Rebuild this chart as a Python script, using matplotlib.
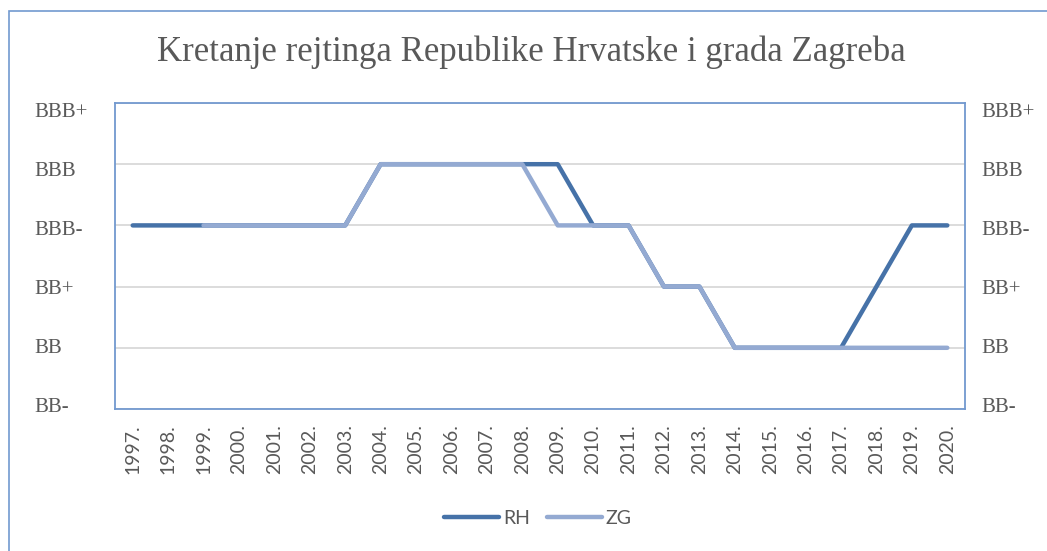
import numpy as np
import matplotlib.pyplot as plt
from matplotlib.patches import Rectangle

# rating scale: BB-=0 ... BBB+=5
years = ['1997.', '1998.', '1999.', '2000.', '2001.', '2002.', '2003.', '2004.',
         '2005.', '2006.', '2007.', '2008.', '2009.', '2010.', '2011.', '2012.',
         '2013.', '2014.', '2015.', '2016.', '2017.', '2018.', '2019.', '2020.']
rating_labels = ['BB-', 'BB', 'BB+', 'BBB-', 'BBB', 'BBB+']
rh = [3, 3, 3, 3, 3, 3, 3, 4, 4, 4, 4, 4, 4, 3, 3, 2, 2, 1, 1, 1, 1, 2, 3, 3]
zg = [np.nan, np.nan, 3, 3, 3, 3, 3, 4, 4, 4, 4, 4, 3, 3, 3, 2, 2, 1, 1, 1, 1, 1, 1, 1]

c_rh = '#4672a8'
c_zg = '#94aad2'
c_txt = '#595959'
c_frame = '#7299cf'

W, H = 1047, 551
fig = plt.figure(figsize=(W/100, H/100), dpi=100)
ax = fig.add_axes([115/W, 1-409/H, 850/W, 306/H])

x = np.arange(len(years))
ax.plot(x, rh, color=c_rh, lw=3.2, solid_capstyle='round', solid_joinstyle='round', label='RH', zorder=3)
ax.plot(x, zg, color=c_zg, lw=3.2, solid_capstyle='round', solid_joinstyle='round', label='ZG', zorder=4)

# Excel spaces the value labels slightly inside the plot area
lab_lim = (-0.0764, 5.119)
ax_l = ax.twinx()
ax_l.yaxis.set_ticks_position('left')
ax_r = ax.twinx()
for a, pad in ((ax_l, 58), (ax_r, 11.5)):
    a.set_ylim(*lab_lim)
    a.set_yticks(range(6))
    a.set_yticklabels(rating_labels, fontsize=15, color=c_txt, family='Liberation Serif', ha='left')
    a.tick_params(axis='y', length=0, pad=pad)
    for s in a.spines.values():
        s.set_visible(False)

ax.set_xlim(-0.5, len(years)-0.5)
ax.set_ylim(0, 5)
ax.set_yticks(range(6))
ax.yaxis.grid(True, color='#d9d9d9', lw=1.3)
ax.set_axisbelow(True)
ax.tick_params(axis='y', left=False, right=False, labelleft=False, labelright=False)
ax.set_xticks(x)
ax.set_xticklabels(years, rotation=90, fontsize=14, color=c_txt, family='Lato')
ax.tick_params(axis='x', length=0, pad=11)
for s in ax.spines.values():
    s.set_color(c_frame)
    s.set_linewidth(1.3)

fig.text(531/W, 1-52/H, 'Kretanje rejtinga Republike Hrvatske i grada Zagreba',
         ha='center', va='center', fontsize=25, color=c_txt, family='Liberation Serif')

fig.legend(loc='center', bbox_to_anchor=(538/W, 1-518/H), ncol=2, frameon=False,
           handlelength=2.8, columnspacing=0.9, handletextpad=0.2,
           prop={'family': 'Lato', 'size': 14}, labelcolor=c_txt)

fig.add_artist(Rectangle((9/W, -0.1), 2, 1-11/H+0.1, transform=fig.transFigure,
                         fill=False, ec=c_frame, lw=1.2))

fig.savefig('out.png', dpi=100)
